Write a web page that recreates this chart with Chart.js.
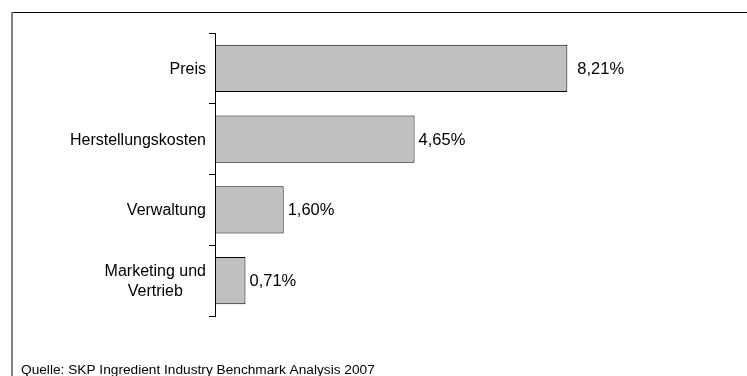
<!DOCTYPE html>
<html>
<head>
<meta charset="utf-8">
<script src="https://cdn.jsdelivr.net/npm/chart.js"></script>
<style>
html,body{margin:0;padding:0;background:#fff;}
#wrap{position:relative;width:747px;height:376px;}
</style>
</head>
<body>
<div id="wrap"><canvas id="c" width="747" height="376"></canvas></div>
<script>
const categories = ["Preis", "Herstellungskosten", "Verwaltung", ["Marketing und", "Vertrieb"]];
const values = [8.21, 4.65, 1.60, 0.71];
const valueLabels = ["8,21%", "4,65%", "1,60%", "0,71%"];
const sourceText = "Quelle: SKP Ingredient Industry Benchmark Analysis 2007";

const FONT = "'Liberation Sans', Arial, sans-serif";

const framePlugin = {
  id: 'frame',
  beforeDraw(chart) {
    const ctx = chart.ctx;
    ctx.save();
    ctx.fillStyle = '#fff';
    ctx.fillRect(0, 0, chart.width, chart.height);
    ctx.lineWidth = 1;
    ctx.strokeStyle = '#000';
    ctx.beginPath();
    ctx.moveTo(11, 12.5);
    ctx.lineTo(chart.width, 12.5);
    ctx.stroke();
    ctx.strokeStyle = '#808080';
    ctx.lineWidth = 2;
    ctx.beginPath();
    ctx.moveTo(12, 12);
    ctx.lineTo(12, chart.height);
    ctx.stroke();
    ctx.restore();
  },
  afterDraw(chart) {
    const ctx = chart.ctx;
    ctx.save();
    ctx.fillStyle = '#000';
    ctx.font = "13.7px " + FONT;
    ctx.textAlign = 'left';
    ctx.textBaseline = 'alphabetic';
    ctx.fillText(sourceText, 21, 374);

    // category labels: block right-aligned, lines centered within block
    const yScale = chart.scales.y;
    ctx.font = "16px " + FONT;
    ctx.textBaseline = 'middle';
    ctx.textAlign = 'center';
    const right = yScale.right - 6 - 3;
    const lineH = 20;
    categories.forEach((lab, i) => {
      const lines = Array.isArray(lab) ? lab : [lab];
      const w = Math.max(...lines.map(l => ctx.measureText(l).width));
      const cx = right - w / 2;
      const cy = yScale.getPixelForValue(i);
      const y0 = cy - (lines.length - 1) * lineH / 2;
      lines.forEach((l, k) => ctx.fillText(l, cx, y0 + k * lineH + 1));
    });

    // value labels
    const meta = chart.getDatasetMeta(0);
    ctx.font = "16.5px " + FONT;
    ctx.textAlign = 'left';
    meta.data.forEach((bar, i) => {
      const gap = i === 0 ? 10 : 4;
      ctx.fillText(valueLabels[i], bar.x + gap, bar.y + 1);
    });
    ctx.restore();
  }
};

new Chart(document.getElementById('c'), {
  type: 'bar',
  data: {
    labels: categories,
    datasets: [{
      data: values,
      backgroundColor: '#C0C0C0',
      borderColor: '#000',
      borderWidth: 1,
      borderSkipped: false,
      categoryPercentage: 1,
      barPercentage: 0.665
    }]
  },
  options: {
    indexAxis: 'y',
    responsive: false,
    animation: false,
    events: [],
    layout: { padding: { top: 33, bottom: 60, left: 0, right: 17 } },
    plugins: { legend: { display: false }, tooltip: { enabled: false } },
    scales: {
      x: { display: false, min: 0, max: 12 },
      y: {
        offset: true,
        afterFit(scale) { scale.width = 215; },
        border: { display: true, color: '#000', width: 1 },
        grid: { offset: true, drawOnChartArea: false, tickLength: 6, color: '#000', lineWidth: 1 },
        ticks: { display: false }
      }
    }
  },
  plugins: [framePlugin]
});
</script>
</body>
</html>
